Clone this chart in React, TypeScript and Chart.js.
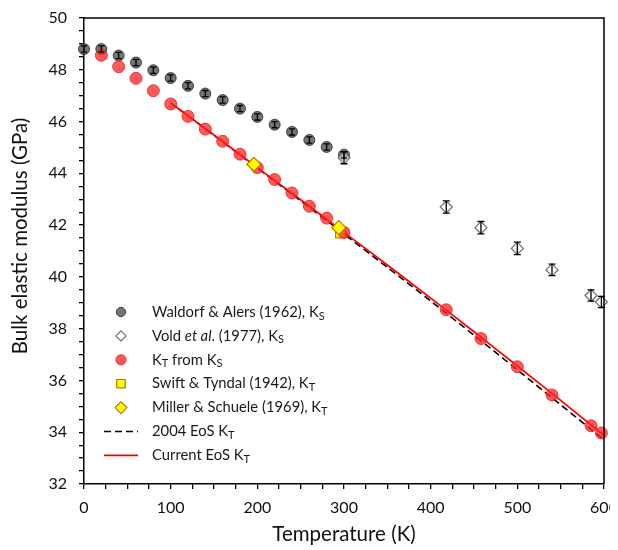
import React, { useEffect, useRef } from 'react';
import { Chart, registerables } from 'chart.js';
Chart.register(...registerables);

// ---- data ----
const waldorfT = [0, 20, 40, 60, 80, 100, 120, 140, 160, 180, 200, 220, 240, 260, 280, 300];
const waldorfK = [48.8, 48.8, 48.55, 48.28, 47.98, 47.68, 47.38, 47.08, 46.83, 46.5, 46.18, 45.88, 45.6, 45.29, 45.02, 44.72];
const waldorfErr = [0.12, 0.12, 0.12, 0.12, 0.12, 0.12, 0.12, 0.12, 0.12, 0.12, 0.12, 0.12, 0.12, 0.12, 0.12, 0.12];

const voldT = [300, 418, 458, 500, 540, 585, 597];
const voldK = [44.6, 42.7, 41.9, 41.1, 40.27, 39.28, 39.03];
const voldErr = [0.23, 0.24, 0.24, 0.24, 0.22, 0.22, 0.22];

const ktT = [20, 40, 60, 80, 100, 120, 140, 160, 180, 200, 220, 240, 260, 280, 300, 418, 458, 500, 540, 585, 597];
const ktK = [48.56, 48.12, 47.67, 47.19, 46.68, 46.2, 45.71, 45.24, 44.74, 44.22, 43.76, 43.24, 42.73, 42.27, 41.72, 38.73, 37.62, 36.53, 35.44, 34.25, 33.97];

const swiftT = [296];
const swiftK = [41.7];

const millerT = [196, 294];
const millerK = [44.35, 41.9];

const eosT = [100, 150, 200, 250, 300, 350, 400, 450, 500, 550, 600];
const eos2004K = [46.72, 45.47, 44.2, 42.94, 41.66, 40.37, 39.07, 37.75, 36.41, 35.06, 33.7];
const eosCurrentK = [46.72, 45.48, 44.22, 42.98, 41.72, 40.46, 39.18, 37.88, 36.56, 35.23, 33.88];

const xTitle = 'Temperature (K)';
const yTitle = 'Bulk elastic modulus (GPa)';

// legend label segments: [text, style] with style n = normal, i = italic, sub = subscript
const legendLabels: [string, string][][] = [
  [['Waldorf & Alers (1962), K', 'n'], ['S', 'sub']],
  [['Vold ', 'n'], ['et al', 'i'], ['. (1977), K', 'n'], ['S', 'sub']],
  [['K', 'n'], ['T', 'sub'], [' from K', 'n'], ['S', 'sub']],
  [['Swift & Tyndal (1942), K', 'n'], ['T', 'sub']],
  [['Miller & Schuele (1969), K', 'n'], ['T', 'sub']],
  [['2004 EoS K', 'n'], ['T', 'sub']],
  [['Current EoS K', 'n'], ['T', 'sub']],
];
const legendOrder = [0, 1, 2, 3, 4, 5, 6];

const FONT = 'Lato, "Open Sans", sans-serif';
const TITLE_SIZE = 20.5;

export default function App() {
  const ref = useRef<HTMLCanvasElement>(null);
  useEffect(() => {
    const canvas = ref.current!;
    const pts = (xs: number[], ys: number[]) => xs.map((x, i) => ({ x, y: ys[i] }));

    const errorBars = {
      id: 'errorBars',
      afterDatasetsDraw(chart: any) {
        const { ctx, scales } = chart;
        const x = scales.x, y = scales.y;
        ctx.save();
        ctx.strokeStyle = '#000';
        ctx.lineWidth = 1.3;
        const draw = (ts: number[], ks: number[], es: number[], cap: number) => {
          ts.forEach((t, i) => {
            const px = x.getPixelForValue(t);
            const y1 = y.getPixelForValue(ks[i] + es[i]);
            const y2 = y.getPixelForValue(ks[i] - es[i]);
            ctx.beginPath();
            ctx.moveTo(px, y1); ctx.lineTo(px, y2);
            ctx.moveTo(px - cap, y1); ctx.lineTo(px + cap, y1);
            ctx.moveTo(px - cap, y2); ctx.lineTo(px + cap, y2);
            ctx.stroke();
          });
        };
        draw(waldorfT, waldorfK, waldorfErr, 3);
        draw(voldT, voldK, voldErr, 3.5);
        ctx.restore();
      },
    };

    const frame = {
      id: 'frame',
      afterDraw(chart: any) {
        const { ctx, chartArea: a } = chart;
        ctx.save();
        ctx.strokeStyle = '#000';
        ctx.lineWidth = 1.5;
        ctx.beginPath();
        ctx.moveTo(a.left, a.top);
        ctx.lineTo(a.right, a.top);
        ctx.lineTo(a.right, a.bottom);
        ctx.stroke();
        // y axis title (placed slightly above the axis centre, as in the original)
        ctx.fillStyle = '#111';
        ctx.font = `${TITLE_SIZE}px ${FONT}`;
        ctx.textAlign = 'center';
        ctx.textBaseline = 'middle';
        ctx.translate(12, (a.top + a.bottom) / 2 - 15);
        ctx.rotate(-Math.PI / 2);
        ctx.fillText(yTitle, 0, 0);
        ctx.restore();
      },
    };

    const drawMarker = (ctx: CanvasRenderingContext2D, ds: any, cx: number, cy: number) => {
      ctx.save();
      if (ds.showLine) {
        ctx.strokeStyle = ds.borderColor;
        ctx.lineWidth = ds.borderWidth;
        ctx.setLineDash(ds.borderDash || []);
        ctx.beginPath();
        ctx.moveTo(cx - 17, cy);
        ctx.lineTo(cx + 17, cy);
        ctx.stroke();
      } else {
        const r = ds.pointRadius * 0.85;
        ctx.fillStyle = ds.backgroundColor;
        ctx.strokeStyle = ds.borderColor;
        ctx.lineWidth = ds.borderWidth;
        ctx.beginPath();
        if (ds.pointStyle === 'circle') {
          ctx.arc(cx, cy, r, 0, Math.PI * 2);
        } else if (ds.pointStyle === 'rect') {
          const s = r * Math.SQRT1_2;
          ctx.rect(cx - s, cy - s, 2 * s, 2 * s);
        } else {
          ctx.moveTo(cx, cy - r); ctx.lineTo(cx + r, cy); ctx.lineTo(cx, cy + r); ctx.lineTo(cx - r, cy); ctx.closePath();
        }
        ctx.fill();
        ctx.stroke();
      }
      ctx.restore();
    };

    const legend = {
      id: 'customLegend',
      afterDraw(chart: any) {
        const { ctx, chartArea: a } = chart;
        const mx = a.left + 37;
        const tx = a.left + 68;
        const y0 = a.top + 294;
        const dy = 23.9;
        ctx.save();
        ctx.fillStyle = '#1a1a1a';
        ctx.textBaseline = 'middle';
        legendOrder.forEach((di, row) => {
          const ds = chart.data.datasets[di];
          const cy = y0 + row * dy;
          drawMarker(ctx, ds, mx, cy);
          let x = tx;
          legendLabels[row].forEach(([t, st]) => {
            if (st === 'sub') {
              ctx.font = `11px ${FONT}`;
              ctx.fillText(t, x, cy + 4);
            } else {
              ctx.font = `${st === 'i' ? 'italic ' : ''}14.8px ${FONT}`;
              ctx.fillText(t, x, cy);
            }
            x += ctx.measureText(t).width;
          });
        });
        ctx.restore();
      },
    };

    const chart = new Chart(canvas, {
      type: 'scatter',
      data: {
        datasets: [
          {
            label: 'Waldorf & Alers (1962), KS',
            data: pts(waldorfT, waldorfK),
            pointStyle: 'circle', pointRadius: 5.5,
            backgroundColor: 'rgba(85,85,85,0.82)', borderColor: 'rgba(55,55,55,0.9)', borderWidth: 1,
            order: 8, clip: false,
          },
          {
            label: 'Vold et al. (1977), KS',
            data: pts(voldT, voldK),
            pointStyle: 'rectRot', pointRadius: 6,
            backgroundColor: 'rgba(255,255,255,0.55)', borderColor: '#6e6e6e', borderWidth: 1.2,
            order: 7, clip: false,
          },
          {
            label: 'KT from KS',
            data: pts(ktT, ktK),
            pointStyle: 'circle', pointRadius: 6,
            backgroundColor: 'rgba(255,35,35,0.75)', borderColor: 'rgba(225,30,30,0.8)', borderWidth: 1,
            order: 5, clip: false,
          },
          {
            label: 'Swift & Tyndal (1942), KT',
            data: pts(swiftT, swiftK),
            pointStyle: 'rect', pointRadius: 7,
            backgroundColor: '#ffff00', borderColor: '#c07a00', borderWidth: 1.2,
            order: 6, clip: false,
          },
          {
            label: 'Miller & Schuele (1969), KT',
            data: pts(millerT, millerK),
            pointStyle: 'rectRot', pointRadius: 7,
            backgroundColor: '#ffff00', borderColor: '#c07a00', borderWidth: 1.2,
            order: 4, clip: false,
          },
          {
            label: '2004 EoS KT',
            data: pts(eosT, eos2004K),
            showLine: true, pointRadius: 0, borderColor: '#000', borderWidth: 1.6,
            borderDash: [7, 4], tension: 0.3, backgroundColor: '#000',
            order: 10, clip: false,
          },
          {
            label: 'Current EoS KT',
            data: pts(eosT, eosCurrentK),
            showLine: true, pointRadius: 0, borderColor: '#ff0000', borderWidth: 1.8,
            tension: 0.3, backgroundColor: '#ff0000',
            order: 9, clip: false,
          },
        ] as any,
      },
      options: {
        animation: false,
        responsive: false,
        layout: { padding: { top: 10, right: 14, left: 0, bottom: 0 } },
        plugins: { legend: { display: false }, tooltip: { enabled: false } },
        scales: {
          x: {
            type: 'linear', min: 0, max: 600,
            afterFit(s: any) { s.height = 66; s.paddingLeft = 0; s.paddingRight = 0; },
            ticks: {
              stepSize: 25, autoSkip: false, maxRotation: 0, padding: 9,
              color: '#111', font: { family: FONT, size: 16 },
              callback: (v: any) => (Number(v) % 100 === 0 ? String(v) : ''),
            },
            grid: { drawOnChartArea: false, drawTicks: true, tickLength: 5, color: '#000', lineWidth: 1.3 },
            border: { display: true, color: '#000', width: 1.5 },
            title: { display: true, text: xTitle, color: '#111', font: { family: FONT, size: TITLE_SIZE }, padding: { top: 0, bottom: 3.5 } },
          },
          y: {
            type: 'linear', min: 32, max: 50,
            afterFit(s: any) { s.width = 76; s.paddingTop = 0; s.paddingBottom = 0; },
            ticks: {
              stepSize: 0.5, autoSkip: false, padding: 12,
              color: '#111', font: { family: FONT, size: 16 },
              callback: (v: any) => (Number(v) % 2 === 0 ? String(v) : ''),
            },
            grid: { drawOnChartArea: false, drawTicks: true, tickLength: 5, color: '#000', lineWidth: 1.3 },
            border: { display: true, color: '#000', width: 1.5 },
            title: { display: false },
          },
        },
      } as any,
      plugins: [errorBars, frame, legend],
    });
    return () => chart.destroy();
  }, []);

  return (
    <div style={{ width: 610, height: 542 }}>
      <canvas ref={ref} width={610} height={542} style={{ display: 'block' }} />
    </div>
  );
}
